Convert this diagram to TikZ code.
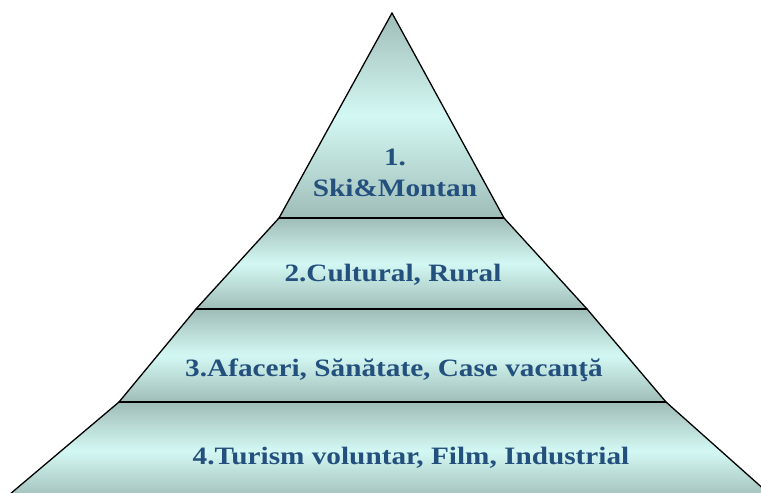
\documentclass[tikz,border=0pt]{standalone}
\usepackage{fontspec}
\setmainfont{Liberation Serif}
\usepackage{tikz}
\usetikzlibrary{positioning}

\definecolor{layeredge}{HTML}{A0BDB8}
\definecolor{layermid}{HTML}{D3F8F3}
\definecolor{labelblue}{HTML}{24507E}

\begin{document}
\begin{tikzpicture}[
        x=1pt, y=-1pt,
        layer/.style={draw=black, line width=1.3pt, line join=miter, top color=layeredge, bottom color=layeredge, middle color=layermid},
        divider/.style={draw=black, line width=1.5pt},
        label/.style={text=labelblue, font=\fontsize{25}{31}\selectfont\bfseries, align=center, inner sep=0pt, xscale=1.17}
    ]
    \useasboundingbox (0,0) rectangle (761,493);
    \clip (0,0) rectangle (761,493);

    % pyramid layers, top to bottom
    \shadedraw [layer] (279,218) -- (392,13) -- (504,218) -- cycle;
    \shadedraw [layer] (196,309) -- (279,218) -- (504,218) -- (587,309) -- cycle;
    \shadedraw [layer] (119,402) -- (196,309) -- (587,309) -- (666,402) -- cycle;
    \shadedraw [layer] (3,500) -- (119,402) -- (666,402) -- (776,500) -- cycle;

    \path [divider] (279,218) -- (504,218);
    \path [divider] (196,309) -- (587,309);
    \path [divider] (119,402) -- (666,402);

    % labels
    \node [label] (ski) at (395,173) {1.\\Ski\&Montan};
    \node [label] (cultural) at (393,275) {2.Cultural, Rural};
    \node [label] (afaceri) at (394,370) {3.Afaceri, Sănătate, Case vacanţă};
    \node [label] (turism) at (411,458) {4.Turism voluntar, Film, Industrial};
\end{tikzpicture}
\end{document}
